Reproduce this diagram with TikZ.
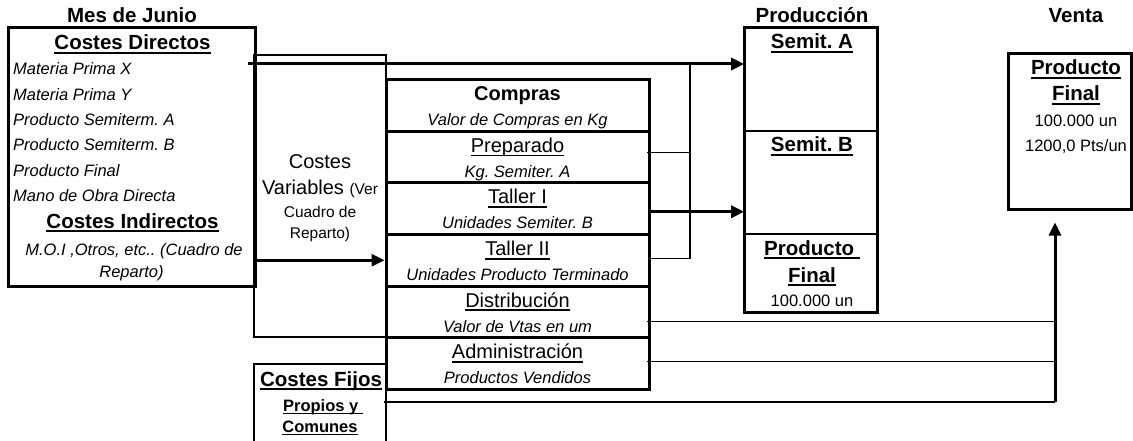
\documentclass[tikz,border=0pt]{standalone}
\usepackage{fontspec}
\setmainfont{Liberation Sans}
\usetikzlibrary{arrows.meta}
\newcommand{\ulined}[1]{\setbox0\hbox{#1}\rlap{\vrule width\wd0 height -0.11em depth 0.2em}\box0}

\tikzset{
  fatbox/.style={draw, line width=3pt, inner sep=0pt},
  midbox/.style={draw, line width=1.6pt, inner sep=0pt},
  slimbox/.style={draw, line width=1.3pt, inner sep=0pt},
  link/.style={line width=1.3pt},
  flow/.style={line width=3pt, -{Triangle[length=13pt,width=12pt]}},
  txhead/.style={anchor=base, inner sep=0pt, font=\fontsize{20.5}{24}\selectfont\bfseries},
  txreg/.style={anchor=base, inner sep=0pt, font=\fontsize{20}{24}\selectfont},
  txmid/.style={anchor=base, inner sep=0pt, font=\fontsize{15.5}{19}\selectfont},
  txsmall/.style={anchor=base, inner sep=0pt, font=\fontsize{16.5}{20}\selectfont},
  txbsmall/.style={anchor=base, inner sep=0pt, font=\fontsize{16.5}{20}\selectfont\bfseries},
  txital/.style={anchor=base, inner sep=0pt, font=\fontsize{16.5}{20}\selectfont\itshape}
}

\begin{document}
\frenchspacing
\begin{tikzpicture}[x=1pt, y=-1pt]
    \useasboundingbox (0,0) rectangle (1133,441);

    % Mes de Junio
    \node[slimbox, minimum width=132, minimum height=282] (var) at (320,196) {};
    \node[fatbox, minimum width=247, minimum height=258] (mes) at (131.5,157) {};
    \node[slimbox, minimum width=132, minimum height=81] (fijos) at (320,404.5) {};

    \node[txhead] (junio) at (132,23) {Mes de Junio};
    \node[txhead] (cdir) at (132.5,50) {\ulined{Costes Directos}};
    \foreach \item [count=\i from 0] in {Materia Prima X, Materia Prima Y, Producto Semiterm. A,
        Producto Semiterm. B, Producto Final, Mano de Obra Directa}
        \node[txital, anchor=base west] (cd\i) at (13,{75+25.3*\i}) {\item};
    \node[txhead] (cind) at (132.5,228) {\ulined{Costes Indirectos}};
    \node[txital] (moi) at (134,255) {M.O.I ,Otros, etc.. (Cuadro de};
    \node[txital] (moib) at (131.5,277) {Reparto)};

    \node[txreg] (cv1) at (320,168) {Costes};
    \node[txreg] (cv2) at (320,194) {Variables {\fontsize{15.5}{19}\selectfont(Ver}};
    \node[txmid] (cv3) at (320,217) {Cuadro de};
    \node[txmid] (cv4) at (320,238) {Reparto)};

    \node[txhead] (cf1) at (321,386) {\ulined{Costes Fijos}};
    \node[txbsmall] (cf2) at (323,411) {\ulined{Propios y\ }};
    \node[txbsmall] (cf3) at (320,432) {\ulined{Comunes}};

    % secciones
    \foreach \name/\rowt/\rows [count=\i from 0] in {
        compras/{\textbf{Compras}}/Valor de Compras en Kg,
        prep/{\ulined{Preparado}}/Kg. Semiter. A,
        taller1/{\ulined{Taller I}}/Unidades Semiter. B,
        taller2/{\ulined{Taller II}}/Unidades Producto Terminado,
        distr/{\ulined{Distribución}}/Valor de Vtas en um,
        admin/{\ulined{Administración}}/Productos Vendidos}
    {
        \node[fatbox, minimum width=263, minimum height=51.5] (\name) at (517.5,{105.75+51.5*\i}) {};
        \node[txreg] (\name-t) at (517.5,{101+51.5*\i}) {\rowt};
        \node[txital] (\name-s) at (517.5,{126+51.5*\i}) {\rows};
    }

    % Produccion
    \node[txhead] (prodh) at (812,23) {Producción};
    \node[midbox, minimum width=132, minimum height=103] (semA) at (811,79.5) {};
    \node[midbox, minimum width=132, minimum height=103] (semB) at (811,182.5) {};
    \node[midbox, minimum width=132, minimum height=78] (pfin) at (811,273) {};
    \draw[line width=3pt] (semA.north west) rectangle (pfin.south east);
    \node[txhead] (semAt) at (812,49) {\ulined{Semit. A}};
    \node[txhead] (semBt) at (812,152) {\ulined{Semit. B}};
    \node[txhead] (pfin1) at (812,255) {\ulined{Producto\ }};
    \node[txhead] (pfin2) at (812,282) {\ulined{Final}};
    \node[txsmall] (pfin3) at (812,306) {100.000 un};

    % Venta
    \node[txhead] (ventah) at (1076,23) {Venta};
    \node[fatbox, minimum width=123, minimum height=155] (venta) at (1069.5,131.5) {};
    \node[txhead] (vt1) at (1076,75) {\ulined{Producto}};
    \node[txhead] (vt2) at (1076,101) {\ulined{Final}};
    \node[txsmall] (vt3) at (1076,127) {100.000 un};
    \node[txsmall] (vt4) at (1076,152) {1200,0 Pts/un};

    % flechas
    \coordinate (cX) at (248,64);
    \draw[flow] (cX) -- (cX -| semA.west);
    \draw[flow] (mes.east |- taller2.west) -- (taller2.west);
    \coordinate (t1) at ([yshift=-3]taller1.east);
    \draw[flow] (t1) -- (t1 -| semB.west);

    \coordinate (jn) at (690,64);
    \coordinate (p1) at ([xshift=-4,yshift=5]prep.east);
    \coordinate (p2) at ([xshift=-1,yshift=2]taller2.east);
    \draw[link] (p1) -- (p1 -| jn);
    \draw[link] (p2) -| (jn);

    \coordinate (vb) at (1055,402);
    \coordinate (vt) at ([yshift=-12]venta.south);
    \coordinate (d1) at ([xshift=-4,yshift=-10]distr.east);
    \coordinate (a1) at ([xshift=-4,yshift=2]admin.east);
    \coordinate (f1) at ([xshift=-3,yshift=2.5]fijos.east);
    \draw[link] (d1) -- (d1 -| vb);
    \draw[link] (a1) -- (a1 -| vb);
    \draw[link] (f1) -- (vb);
    \draw[flow] (vb) -- (vt -| vb);
\end{tikzpicture}
\end{document}
